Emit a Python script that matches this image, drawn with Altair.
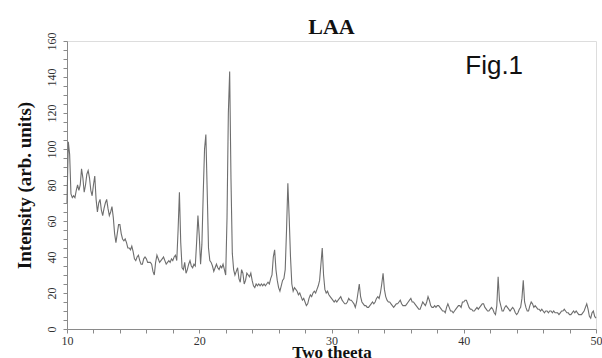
import altair as alt
import pandas as pd

# XRD pattern, sampled every 0.1 degree two-theta (each row = one degree, 10 samples)
rows = [
    [70, 104, 97, 75, 73, 74, 73, 77, 80, 77],    # 10.x
    [80, 89, 84, 76, 80, 86, 88, 84, 77, 74],     # 11.x
    [80, 85, 72, 65, 70, 72, 66, 63, 67, 70],     # 12.x
    [72, 67, 63, 65, 68, 62, 53, 48, 53, 58],     # 13.x
    [58, 53, 50, 49, 50, 48, 45, 45, 44, 46],     # 14.x
    [43, 39, 38, 40, 41, 38, 36, 36, 39, 40],     # 15.x
    [39, 37, 37, 37, 36, 32, 30, 37, 41, 39],     # 16.x
    [37, 38, 39, 40, 38, 36, 37, 38, 37, 39],     # 17.x
    [38, 40, 41, 38, 55, 76, 48, 34, 33, 37],     # 18.x
    [31, 33, 36, 38, 35, 34, 36, 35, 48, 63],     # 19.x
    [52, 36, 47, 75, 100, 108, 77, 45, 38, 37],   # 20.x
    [35, 32, 34, 36, 34, 33, 35, 34, 36, 33],     # 21.x
    [30, 62, 120, 143, 83, 42, 33, 30, 32, 34],   # 22.x
    [28, 26, 33, 31, 25, 27, 31, 30, 29, 31],     # 23.x
    [27, 24, 23, 25, 24, 25, 24, 25, 24, 25],     # 24.x
    [24, 25, 26, 25, 28, 30, 40, 44, 33, 27],     # 25.x
    [23, 21, 24, 27, 28, 33, 55, 81, 62, 40],     # 26.x
    [25, 21, 23, 22, 21, 19, 20, 18, 16, 17],     # 27.x
    [15, 13, 14, 17, 19, 18, 20, 21, 20, 22],     # 28.x
    [24, 27, 36, 45, 30, 22, 20, 21, 19, 18],     # 29.x
    [17, 16, 15, 16, 15, 16, 17, 18, 16, 15],     # 30.x
    [14, 14, 15, 17, 16, 16, 15, 14, 12, 15],     # 31.x
    [20, 25, 18, 15, 14, 13, 13, 12, 12, 13],     # 32.x
    [14, 15, 14, 15, 17, 18, 17, 20, 25, 31],     # 33.x
    [22, 18, 16, 15, 15, 14, 13, 12, 13, 14],     # 34.x
    [14, 15, 16, 14, 13, 13, 13, 14, 15, 16],     # 35.x
    [17, 15, 15, 14, 13, 12, 11, 11, 13, 15],     # 36.x
    [14, 13, 15, 18, 16, 13, 12, 12, 13, 12],     # 37.x
    [13, 13, 12, 11, 10, 10, 9, 12, 14, 12],      # 38.x
    [10, 10, 9, 10, 11, 12, 13, 13, 12, 15],      # 39.x
    [15, 16, 16, 14, 12, 11, 11, 10, 10, 11],     # 40.x
    [12, 11, 12, 13, 14, 14, 12, 11, 10, 10],     # 41.x
    [11, 12, 11, 9, 8, 13, 29, 16, 13, 10],       # 42.x
    [10, 12, 13, 12, 11, 10, 11, 12, 11, 9],      # 43.x
    [8, 9, 11, 12, 17, 27, 15, 12, 10, 10],       # 44.x
    [13, 15, 14, 12, 13, 12, 11, 11, 10, 11],     # 45.x
    [10, 9, 10, 10, 9, 10, 10, 9, 10, 9],         # 46.x
    [9, 9, 8, 9, 10, 10, 11, 10, 9, 9],           # 47.x
    [8, 8, 9, 10, 9, 10, 9, 8, 8, 8],             # 48.x
    [9, 10, 12, 14, 11, 7, 6, 9, 10, 7],          # 49.x
    [6],                                           # 50.0
]
start_deg = 10.0
step_deg = 0.1

intensity = [v for row in rows for v in row]
two_theta = [round(start_deg + step_deg * i, 1) for i in range(len(intensity))]

y_ticks = list(range(0, 161, 5))
x_ticks = list(range(10, 51, 2))

fig_label = ["Fig.1"]
fig_x = [42.3]
fig_y = [141.7]

df = pd.DataFrame({"theta": two_theta, "intensity": intensity})
ann = pd.DataFrame({"x": fig_x, "y": fig_y, "text": fig_label})

serif = "Liberation Serif"

x_scale = alt.Scale(domain=[10, 50], nice=False, zero=False)
y_scale = alt.Scale(domain=[0, 160], nice=False)

x_axis = alt.Axis(
    title="Two theeta",
    values=x_ticks,
    labelExpr="datum.value % 10 === 0 ? datum.label : ''",
    labelOverlap=False,
    grid=False,
    domainColor="#8a8a8a",
    tickColor="#8a8a8a",
    tickSize=4,
    labelFont=serif,
    labelFontSize=12,
    labelColor="#333333",
    labelPadding=2,
    labelFlush=False,
    titleFont=serif,
    titleFontSize=17,
    titleFontWeight="bold",
    titleColor="#111111",
    titleBaseline="alphabetic",
    titleY=28,
)
y_axis = alt.Axis(
    title="Intensity (arb. units)",
    values=y_ticks,
    labelExpr="datum.value % 20 === 0 ? datum.label : ''",
    labelOverlap=False,
    grid=False,
    domainColor="#8a8a8a",
    tickColor="#8a8a8a",
    tickSize=4,
    labelAngle=270,
    labelFont=serif,
    labelFontSize=12,
    labelColor="#333333",
    labelPadding=5,
    labelFlush=False,
    titleFont=serif,
    titleFontSize=19,
    titleFontWeight="bold",
    titleColor="#111111",
    titlePadding=11,
)

line = alt.Chart(df).mark_line(color="#6e6e6e", strokeWidth=1.1).encode(
    x=alt.X("theta:Q", scale=x_scale, axis=x_axis),
    y=alt.Y("intensity:Q", scale=y_scale, axis=y_axis),
)

text = alt.Chart(ann).mark_text(
    font="Liberation Sans", fontSize=26, color="#111111", align="center", baseline="alphabetic"
).encode(
    x=alt.X("x:Q", scale=x_scale, axis=x_axis),
    y=alt.Y("y:Q", scale=y_scale, axis=y_axis),
    text="text:N",
)

chart = (
    alt.layer(line, text)
    .properties(
        width=529,
        height=288,
        title=alt.TitleParams(
            "LAA", font=serif, fontSize=22, fontWeight="bold", color="#111111",
            offset=7, dy=14
        ),
        autosize=alt.AutoSizeParams(type="none"),
        padding={"left": 67, "top": 41, "right": 6, "bottom": 29},
    )
    .configure_axis(labelOverlap=False)
    .configure_view(stroke="#8a8a8a", strokeWidth=1.2)
    .configure(background="white")
)

chart.save("out.html", embed_options={"renderer": "svg", "actions": False})
